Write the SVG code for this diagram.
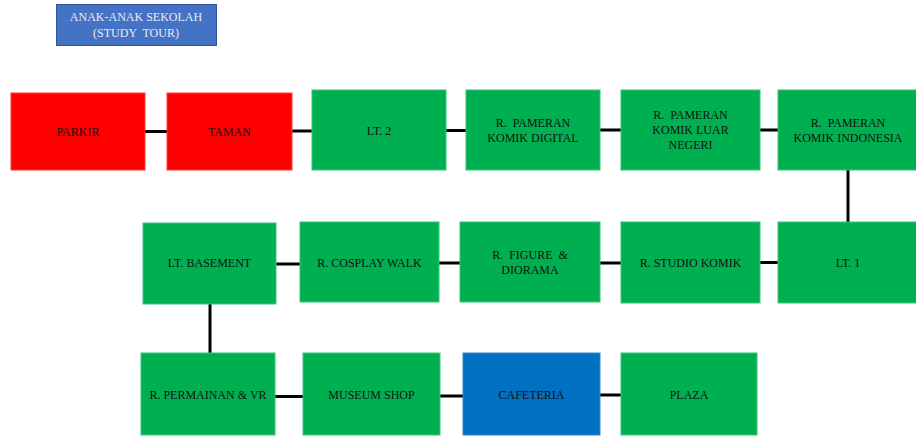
<svg xmlns="http://www.w3.org/2000/svg" width="916" height="436" viewBox="0 0 916 436">
  <style>
    .box { stroke-width: 1; }
    .red { fill: #FF0000; stroke: #FF3B3B; }
    .green { fill: #00AF50; stroke: #3DC47A; }
    .blue { fill: #0070C0; stroke: #2F86CC; }
    .title { fill: #4472C4; stroke: #2F5597; }
    text { font-family: "Liberation Serif", "Times New Roman", serif; font-size: 12px; fill: #111; text-anchor: middle; white-space: pre; }
    .light { fill: #E6ECF7; }
    .link { stroke: #000; stroke-width: 3; fill: none; }
  </style>

  <!-- header -->
  <g id="header">
    <rect class="box title" x="56.5" y="4.5" width="160" height="41"/>
    <text class="light" x="136" y="21">ANAK-ANAK SEKOLAH</text>
    <text class="light" x="136" y="37">(STUDY  TOUR)</text>
  </g>

  <!-- connectors -->
  <g id="connectors">
    <line class="link" x1="145" y1="131.5" x2="167" y2="131.5"/>
    <line class="link" x1="292" y1="131" x2="312" y2="131"/>
    <line class="link" x1="446" y1="130.5" x2="466" y2="130.5"/>
    <line class="link" x1="600" y1="130" x2="621" y2="130"/>
    <line class="link" x1="760" y1="130" x2="778" y2="130"/>
    <line class="link" x1="848" y1="170" x2="848" y2="222"/>
    <line class="link" x1="760" y1="262.5" x2="778" y2="262.5"/>
    <line class="link" x1="600" y1="263" x2="621" y2="263"/>
    <line class="link" x1="439" y1="263" x2="460" y2="263"/>
    <line class="link" x1="276" y1="264" x2="300" y2="264"/>
    <line class="link" x1="210" y1="304" x2="210" y2="353"/>
    <line class="link" x1="275" y1="396.5" x2="303" y2="396.5"/>
    <line class="link" x1="440" y1="396" x2="463" y2="396"/>
    <line class="link" x1="600" y1="395" x2="621" y2="395"/>
  </g>

  <!-- row 1 -->
  <g id="parkir">
    <rect class="box red" x="11" y="93" width="134" height="77"/>
    <text x="78" y="136">PARKIR</text>
  </g>
  <g id="taman">
    <rect class="box red" x="167" y="93" width="125" height="77"/>
    <text x="229.5" y="136">TAMAN</text>
  </g>
  <g id="lt2">
    <rect class="box green" x="312" y="90" width="134" height="80"/>
    <text x="379" y="135">LT. 2</text>
  </g>
  <g id="komik-digital">
    <rect class="box green" x="466" y="90" width="134" height="80"/>
    <text x="533" y="127">R.  PAMERAN</text>
    <text x="533" y="142">KOMIK DIGITAL</text>
  </g>
  <g id="komik-luar-negeri">
    <rect class="box green" x="621" y="90" width="139" height="80"/>
    <text x="690.5" y="119">R.  PAMERAN</text>
    <text x="690.5" y="134">KOMIK LUAR</text>
    <text x="690.5" y="149">NEGERI</text>
  </g>
  <g id="komik-indonesia">
    <rect class="box green" x="778" y="90" width="140" height="80"/>
    <text x="848" y="127">R.  PAMERAN</text>
    <text x="848" y="142">KOMIK INDONESIA</text>
  </g>

  <!-- row 2 -->
  <g id="lt1">
    <rect class="box green" x="778" y="222" width="140" height="81"/>
    <text x="848" y="267">LT. 1</text>
  </g>
  <g id="studio-komik">
    <rect class="box green" x="621" y="222" width="139" height="81"/>
    <text x="690.5" y="267">R. STUDIO KOMIK</text>
  </g>
  <g id="figure-diorama">
    <rect class="box green" x="460" y="222" width="140" height="80"/>
    <text x="530" y="259">R.  FIGURE  &amp;</text>
    <text x="530" y="274">DIORAMA</text>
  </g>
  <g id="cosplay-walk">
    <rect class="box green" x="300" y="222" width="139" height="80"/>
    <text x="369.5" y="267">R. COSPLAY WALK</text>
  </g>
  <g id="lt-basement">
    <rect class="box green" x="143" y="223" width="133" height="81"/>
    <text x="209.5" y="267">LT. BASEMENT</text>
  </g>

  <!-- row 3 -->
  <g id="permainan-vr">
    <rect class="box green" x="141" y="353" width="134" height="82"/>
    <text x="208" y="399">R. PERMAINAN &amp; VR</text>
  </g>
  <g id="museum-shop">
    <rect class="box green" x="303" y="353" width="137" height="82"/>
    <text x="371.5" y="399">MUSEUM SHOP</text>
  </g>
  <g id="cafeteria">
    <rect class="box blue" x="463" y="353" width="137" height="82"/>
    <text x="531.5" y="399">CAFETERIA</text>
  </g>
  <g id="plaza">
    <rect class="box green" x="621" y="353" width="136" height="82"/>
    <text x="689" y="399">PLAZA</text>
  </g>
</svg>
